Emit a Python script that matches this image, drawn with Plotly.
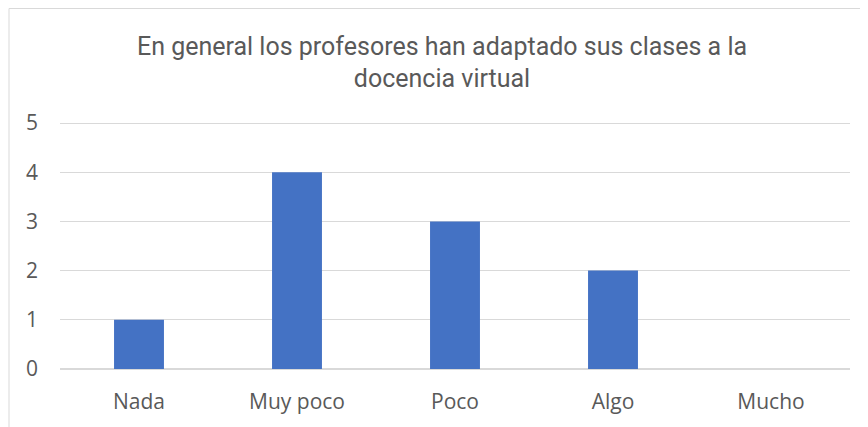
import plotly.graph_objects as go

categories = ["Nada", "Muy poco", "Poco", "Algo", "Mucho"]
values = [1, 4, 3, 2, 0]
y_ticks = [0, 1, 2, 3, 4, 5]

W, H = 868, 427
ml, mr, mt, mb = 52, 26, 112, 66
pw, ph = W - ml - mr, H - mt - mb
ymax = 5 * ph / (ph - 3)

fig = go.Figure(go.Bar(x=categories, y=values, marker=dict(color="#4472C4", line=dict(width=0))))

fig.update_layout(
    width=W, height=H,
    margin=dict(l=ml, r=mr, t=mt, b=mb),
    paper_bgcolor="white", plot_bgcolor="white",
    bargap=0.684,
    showlegend=False,
    title=dict(
        text="En general los profesores han adaptado sus clases a la<br>docencia virtual",
        x=0.5, xanchor="center", xref="container",
        y=1 - 46.5 / H, yanchor="middle", yref="container",
        font=dict(family="Roboto", size=25, color="#595959"),
    ),
    font=dict(family="Open Sans", size=21, color="#595959"),
    shapes=[dict(type="rect", xref="paper", yref="paper",
                 x0=(1 - ml) / pw, x1=1.2,
                 y0=-0.5, y1=(H - mb - 0.5) / ph,
                 line=dict(color="#d9d9d9", width=1), layer="below")],
)
fig.update_yaxes(range=[0, ymax], tickvals=y_ticks, showgrid=True, gridcolor="#d9d9d9",
                 gridwidth=1, zeroline=True, zerolinecolor="#d9d9d9", zerolinewidth=2,
                 showline=False, ticks="", ticklabelstandoff=21)
fig.update_xaxes(showgrid=False, showline=False, ticks="", ticklabelstandoff=18)

fig.write_html("out.html")
